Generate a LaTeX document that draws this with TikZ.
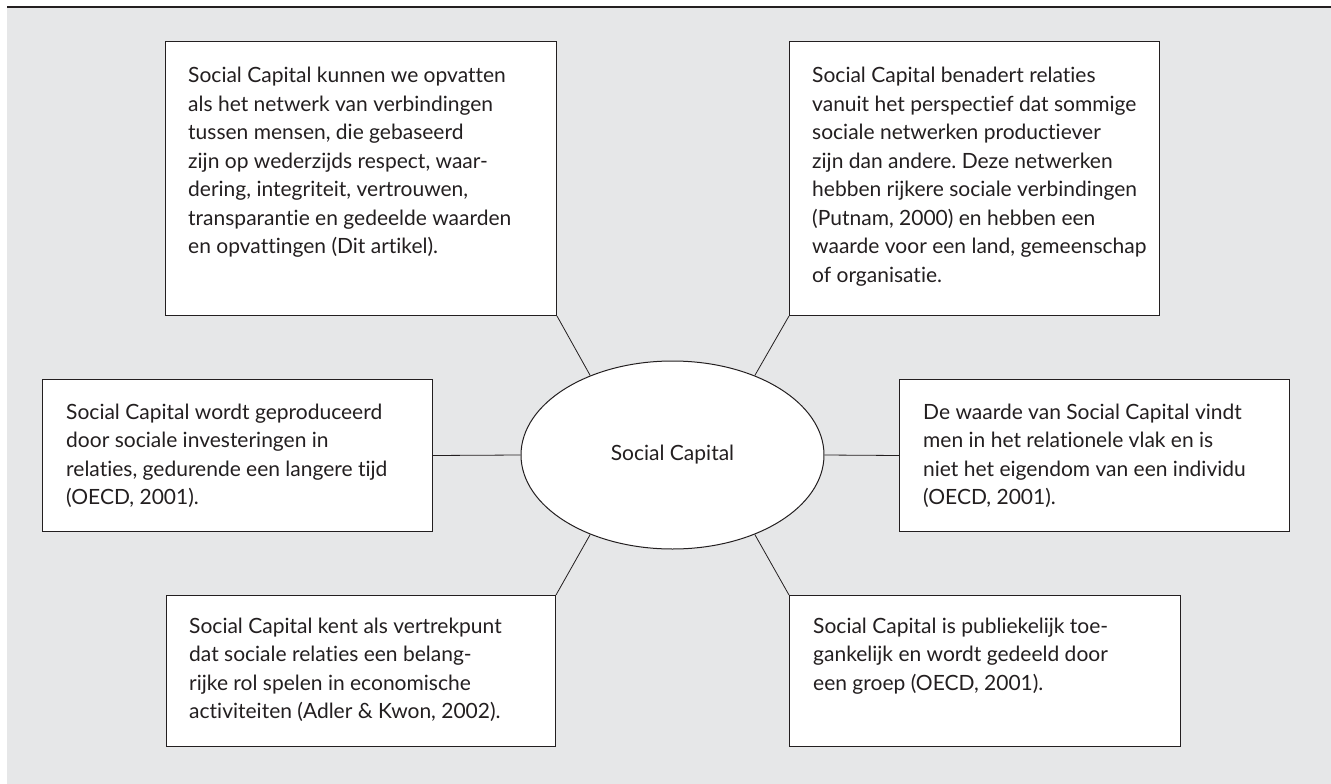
\documentclass[tikz,border=0pt]{standalone}
\usepackage{fontspec}
\setmainfont{Lato}[Ligatures={NoCommon}]
\frenchspacing
\usetikzlibrary{shapes.geometric}
\definecolor{ink}{HTML}{231F20}
\definecolor{panel}{HTML}{E6E7E8}
\begin{document}
\begin{tikzpicture}[x=1pt,y=-1pt,
  textbox/.style={draw=ink,line width=1pt,fill=white,rectangle,inner sep=0pt,anchor=north west},
  boxtext/.style={anchor=base west,inner sep=0pt,text=ink,font=\fontsize{21}{28.5}\selectfont},
  link/.style={draw=ink,line width=0.8pt}]
\useasboundingbox (0,0) rectangle (1331,784);
% panel and top rule
\fill[panel] (7,7) rectangle (1331,784);
\draw[ink,line width=1.6pt] (7,7) -- (1331,7);

% boxes
\node[textbox,minimum width=391pt,minimum height=274pt] (tl) at (165,41) {};
\node[textbox,minimum width=370pt,minimum height=274pt] (tr) at (789,41) {};
\node[textbox,minimum width=390pt,minimum height=152pt] (lm) at (42,379) {};
\node[textbox,minimum width=390pt,minimum height=152pt] (rm) at (899,379) {};
\node[textbox,minimum width=389pt,minimum height=151pt] (bl) at (166,595) {};
\node[textbox,minimum width=391pt,minimum height=151pt] (br) at (789,595) {};

% centre ellipse
\node[ellipse,draw=ink,line width=1pt,fill=white,minimum width=303pt,minimum height=188pt,inner sep=0pt,
      text=ink,font=\fontsize{21}{26}\selectfont] (sc) at (672.5,455) {Social Capital};

% connectors
\draw[link] (tl.south east) -- (sc.136);
\draw[link] (tr.south west) -- (sc.44);
\draw[link] (lm.east) -- (sc.west);
\draw[link] (rm.west) -- (sc.east);
\draw[link] (bl.north east) -- (sc.224);
\draw[link] (br.north west) -- (sc.316);

% texts
\node[boxtext] (tltext) at (188,83) {\parbox[t]{380pt}{\raggedright
Social Capital kunnen we opvatten\\
als het netwerk van verbindingen\\
tussen mensen, die gebaseerd\\
zijn op wederzijds respect, waar-\\
dering, integriteit, vertrouwen,\\
transparantie en gedeelde waarden\\
en opvattingen (Dit artikel).}};
\node[boxtext] (trtext) at (812,83) {\parbox[t]{380pt}{\raggedright
Social Capital benadert relaties\\
vanuit het perspectief dat sommige\\
sociale netwerken productiever\\
zijn dan andere. Deze netwerken\\
hebben rijkere sociale verbindingen\\
(Putnam, 2000) en hebben een\\
waarde voor een land, gemeenschap\\
of organisatie.}};
\node[boxtext] (lmtext) at (66,419) {\parbox[t]{380pt}{\raggedright
Social Capital wordt geproduceerd\\
door sociale investeringen in\\
relaties, gedurende een langere tijd\\
(OECD, 2001).}};
\node[boxtext] (rmtext) at (923,419) {\parbox[t]{380pt}{\raggedright
De waarde van Social Capital vindt\\
men in het relationele vlak en is\\
niet het eigendom van een individu\\
(OECD, 2001).}};
\node[boxtext] (bltext) at (189,633) {\parbox[t]{380pt}{\raggedright
Social Capital kent als vertrekpunt\\
dat sociale relaties een belang-\\
rijke rol spelen in economische\\
activiteiten (Adler \& Kwon, 2002).}};
\node[boxtext] (brtext) at (813,633) {\parbox[t]{380pt}{\raggedright
Social Capital is publiekelijk toe-\\
gankelijk en wordt gedeeld door\\
een groep (OECD, 2001).}};
\end{tikzpicture}
\end{document}
